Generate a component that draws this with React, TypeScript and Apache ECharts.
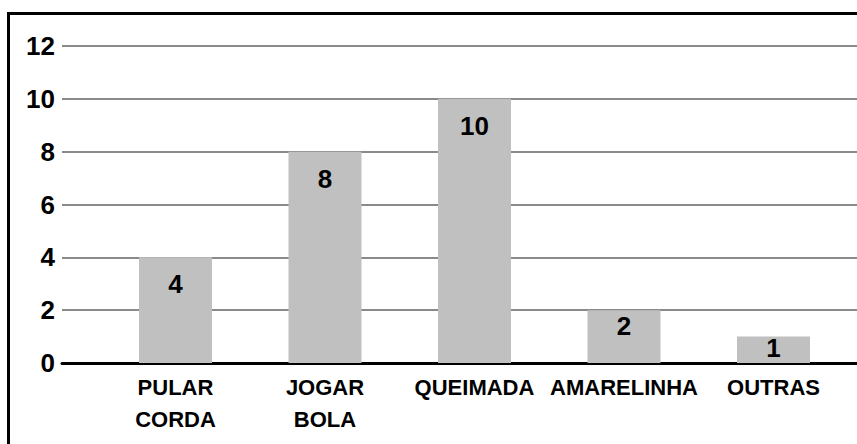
import React, { useEffect, useRef } from "react";
import * as echarts from "echarts";

const categories = ["PULAR\nCORDA", "JOGAR\nBOLA", "QUEIMADA", "AMARELINHA", "OUTRAS"];
const values = [4, 8, 10, 2, 1];
const yTicks = { min: 0, max: 12, interval: 2 };

const FONT = "'Liberation Sans', Arial, sans-serif";

export default function App() {
  const ref = useRef<HTMLDivElement>(null);
  useEffect(() => {
    if (!ref.current) return;
    const chart = echarts.init(ref.current, null, { renderer: "svg" });
    const barData = values.map((v) => ({
      value: v,
      label: { distance: v >= 4 ? 14 : v >= 2 ? 3 : -2 },
    }));
    chart.setOption({
      animation: false,
      backgroundColor: "#ffffff",
      grid: [
        { left: 62, right: 0, top: 46, bottom: 81 },
        { left: 100.75, width: 747.5, top: 46, bottom: 81 },
      ],
      xAxis: [
        {
          type: "category",
          gridIndex: 0,
          data: [""],
          axisLine: { show: true, lineStyle: { color: "#000000", width: 3 } },
          axisTick: { show: false },
          axisLabel: { show: false },
          splitLine: { show: false },
        },
        {
          type: "category",
          gridIndex: 1,
          data: categories,
          axisLine: { show: false },
          axisTick: { show: false },
          axisLabel: {
            color: "#000000",
            fontFamily: FONT,
            fontWeight: "bold",
            fontSize: 22,
            lineHeight: 32,
            margin: 8,
            interval: 0,
          },
        },
      ],
      yAxis: [
        {
          type: "value",
          gridIndex: 0,
          min: yTicks.min,
          max: yTicks.max,
          interval: yTicks.interval,
          axisLine: { show: false },
          axisTick: { show: false },
          axisLabel: {
            color: "#000000",
            fontFamily: FONT,
            fontWeight: "bold",
            fontSize: 26,
            margin: 7,
          },
          splitLine: { show: true, lineStyle: { color: "#8a8a8a", width: 2 } },
        },
        {
          type: "value",
          gridIndex: 1,
          min: yTicks.min,
          max: yTicks.max,
          interval: yTicks.interval,
          show: false,
          splitLine: { show: false },
        },
      ],
      series: [
        {
          type: "bar",
          xAxisIndex: 1,
          yAxisIndex: 1,
          data: barData,
          barWidth: 73,
          itemStyle: { color: "#c0c0c0" },
          label: {
            show: true,
            position: "insideTop",
            distance: 14,
            color: "#000000",
            fontFamily: FONT,
            fontWeight: "bold",
            fontSize: 26,
          },
          z: 3,
        },
      ],
      graphic: [
        {
          type: "rect",
          shape: { x: 8.5, y: 13.5, width: 900, height: 500 },
          style: { fill: "none", stroke: "#000000", lineWidth: 3 },
          z: 10,
        },
      ],
    });
    return () => chart.dispose();
  }, []);
  return (
    <div
      ref={ref}
      style={{ position: "fixed", left: 0, top: 0, width: 857, height: 444 }}
    />
  );
}
